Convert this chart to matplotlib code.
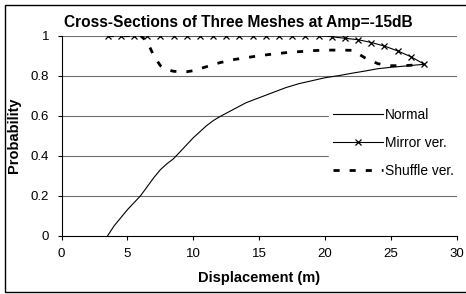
import matplotlib
matplotlib.use("Agg")
import matplotlib.pyplot as plt
from matplotlib.patches import Rectangle

plt.rcParams['font.family'] = ['Liberation Sans', 'DejaVu Sans']

# Data
normal_x = [3.5, 4, 4.5, 5, 5.5, 6, 6.5, 7, 7.5, 8, 8.5, 9, 9.5, 10, 10.5, 11, 11.5, 12,
            13, 14, 15, 16, 17, 18, 19, 20, 21, 22, 23, 24, 25, 26, 27.5]
normal_y = [0.0, 0.05, 0.09, 0.13, 0.165, 0.2, 0.245, 0.29, 0.33, 0.36, 0.385, 0.42, 0.455, 0.49,
            0.52, 0.55, 0.575, 0.595, 0.63, 0.665, 0.69, 0.715, 0.74, 0.76, 0.775, 0.79, 0.80,
            0.812, 0.823, 0.835, 0.842, 0.848, 0.857]

mirror_x = [3.5, 4.5, 5.5, 6.5, 7.5, 8.5, 9.5, 10.5, 11.5, 12.5, 13.5, 14.5, 15.5, 16.5, 17.5,
            18.5, 19.5, 20.5, 21.5, 22.5, 23.5, 24.5, 25.5, 26.5, 27.5]
mirror_y = [1.0, 1.0, 1.0, 1.0, 1.0, 1.0, 1.0, 1.0, 1.0, 1.0, 1.0, 1.0, 1.0, 1.0, 1.0,
            1.0, 1.0, 0.995, 0.987, 0.98, 0.966, 0.948, 0.924, 0.895, 0.858]

shuffle_x = [3.5, 4.5, 5.5, 6, 6.5, 7, 7.5, 8, 8.5, 9, 9.5, 10, 10.5, 11, 12, 13, 14, 15, 16,
             17, 18, 19, 20, 21, 22, 22.5, 23, 23.5, 24, 25, 26, 27.5]
shuffle_y = [1.0, 1.0, 1.0, 1.0, 0.97, 0.9, 0.85, 0.83, 0.822, 0.82, 0.82, 0.825, 0.835, 0.845,
             0.865, 0.88, 0.89, 0.9, 0.908, 0.915, 0.92, 0.925, 0.928, 0.928, 0.927, 0.91,
             0.89, 0.875, 0.86, 0.85, 0.85, 0.857]

x_ticks = [0, 5, 10, 15, 20, 25, 30]
y_ticks = [0, 0.2, 0.4, 0.6, 0.8, 1]
y_ticklabels = ['0', '0.2', '0.4', '0.6', '0.8', '1']

W, H = 466, 294
fig = plt.figure(figsize=(W / 100, H / 100), dpi=100)
ax = fig.add_axes([61.5 / W, 1 - 235.7 / H, (457 - 61.5) / W, 200 / H])

ax.set_xlim(0, 30)
ax.set_ylim(0, 1)
for yv in y_ticks[1:]:
    ax.axhline(yv, color='#707070', lw=0.8, zorder=1)

ax.plot(normal_x, normal_y, color='black', lw=0.8, label='Normal', zorder=3)
ax.plot(mirror_x, mirror_y, color='black', lw=0.8, marker='x', markersize=3.8,
        markeredgewidth=0.9, label='Mirror ver.', zorder=4)
ax.plot(shuffle_x, shuffle_y, color='black', lw=2.0, dashes=(2.2, 3.6),
        dash_capstyle='butt', label='Shuffle ver.', zorder=3)

ax.set_xticks(x_ticks)
ax.set_xticklabels([str(v) for v in x_ticks])
ax.set_yticks(y_ticks)
ax.set_yticklabels(y_ticklabels)
ax.tick_params(axis='both', direction='out', length=3, width=0.8, labelsize=9.5, pad=6,
               color='black')
for s in ['top', 'right']:
    ax.spines[s].set_visible(False)
for s in ['left', 'bottom']:
    ax.spines[s].set_linewidth(0.8)
    ax.spines[s].set_color('black')

ax.set_xlabel('Displacement (m)', fontsize=10.5, fontweight='bold', labelpad=8)
ax.set_ylabel('Probability', fontsize=10.5, fontweight='bold', labelpad=7)

fig.text(238.5 / W, 1 - 23 / H, 'Cross-Sections of Three Meshes at Amp=-15dB',
         fontsize=11.2, fontweight='bold', ha='center', va='center')

leg = fig.legend(loc='upper left', bbox_to_anchor=(329 / W, 1 - 104 / H),
                 frameon=True, fontsize=9.9, handlelength=3.6, handletextpad=0.15,
                 labelspacing=1.02, borderpad=0.3, borderaxespad=0)
leg.get_frame().set_facecolor('white')
leg.get_frame().set_edgecolor('white')
leg.get_frame().set_alpha(1)

fig.patches.append(Rectangle((5 / W, 1 - 292 / H), 470 / W, 287 / H, transform=fig.transFigure,
                             fill=False, edgecolor='black', lw=1.0, zorder=10))

fig.savefig('out.png', dpi=100)
